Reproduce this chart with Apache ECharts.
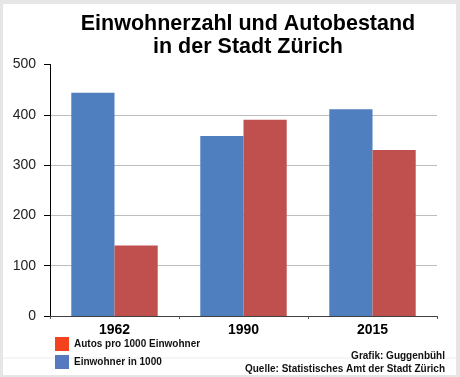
<!DOCTYPE html>
<html>
<head>
<meta charset="utf-8">
<script src="https://cdn.jsdelivr.net/npm/echarts@6/dist/echarts.min.js"></script>
<style>
html,body{margin:0;padding:0;background:#e6e6e6;}
#frame{position:absolute;left:0;top:0;width:460px;height:377px;box-sizing:border-box;border-left:3px solid #e6e6e6;border-top:4px solid #e6e6e6;border-right:4px solid #e6e6e6;border-bottom:2px solid #e6e6e6;background:#fff;}
#chart{width:453px;height:371px;}
</style>
</head>
<body>
<div id="frame"><div id="chart"></div></div>
<script>
const titleLines = ['Einwohnerzahl und Autobestand', 'in der Stadt Zürich'];
const categories = ['1962', '1990', '2015'];
const einwohner = [444, 358, 411];
const autos = [140, 390, 330];
const seriesNames = ['Einwohner in 1000', 'Autos pro 1000 Einwohner'];
const yTicks = { min: 0, max: 500, interval: 100 };
const credits = ['Grafik: Guggenbühl', 'Quelle: Statistisches Amt der Stadt Zürich'];

const FONT = "'Liberation Sans', Arial, sans-serif";
const chart = echarts.init(document.getElementById('chart'), null, { renderer: 'canvas' });
chart.setOption({
  animation: false,
  backgroundColor: '#fff',
  title: {
    text: titleLines.join('\n'),
    left: 240,
    textAlign: 'center',
    top: 4,
    padding: 5,
    textStyle: { fontFamily: FONT, fontSize: 21.5, fontWeight: 'bold', color: '#000', lineHeight: 23 }
  },
  grid: { left: 47, right: 19, top: 60.5, bottom: 59, containLabel: false },
  legend: {
    orient: 'vertical',
    left: 52,
    top: 333,
    padding: 0,
    itemWidth: 14,
    itemHeight: 14,
    itemGap: 4,
    icon: 'rect',
    textStyle: { fontFamily: FONT, fontSize: 10, fontWeight: 'bold', color: '#111', padding: [5, 0, 0, 0] },
    data: [
      { name: seriesNames[1], itemStyle: { color: '#f4421f' } },
      { name: seriesNames[0], itemStyle: { color: '#5679c0' } }
    ]
  },
  xAxis: {
    type: 'category',
    data: categories,
    axisLine: { lineStyle: { color: '#404040', width: 1 } },
    axisTick: { show: true, length: 3, lineStyle: { color: '#555' } },
    axisLabel: { fontFamily: FONT, fontSize: 14, fontWeight: 'bold', color: '#000', margin: 7 },
    splitLine: { show: false }
  },
  yAxis: {
    type: 'value',
    min: yTicks.min,
    max: yTicks.max,
    interval: yTicks.interval,
    axisLine: { show: true, lineStyle: { color: '#000', width: 1 } },
    axisTick: { show: true, length: 6, lineStyle: { color: '#000' } },
    axisLabel: { fontFamily: FONT, fontSize: 14, color: '#222', margin: 14 },
    splitLine: { show: true, showMaxLine: false, lineStyle: { color: '#bdbdbd', width: 1 } }
  },
  graphic: [
    { type: 'line', z: 0, silent: true, shape: { x1: -3, y1: 354, x2: 453, y2: 354 }, style: { stroke: '#ececec', lineWidth: 1 } },
    { type: 'text', z: 10, right: 11, top: 347, style: { text: credits[0], font: 'bold 10px ' + FONT, fill: '#111', textAlign: 'right' } },
    { type: 'text', z: 10, right: 11, top: 360, style: { text: credits[1], font: 'bold 10px ' + FONT, fill: '#111', textAlign: 'right' } }
  ],
  series: [
    { name: seriesNames[0], type: 'bar', data: einwohner, barGap: '0%', barCategoryGap: '33%', itemStyle: { color: '#4f7fbe' } },
    { name: seriesNames[1], type: 'bar', data: autos, barGap: '0%', barCategoryGap: '33%', itemStyle: { color: '#c0504d' } }
  ]
});
</script>
</body>
</html>
